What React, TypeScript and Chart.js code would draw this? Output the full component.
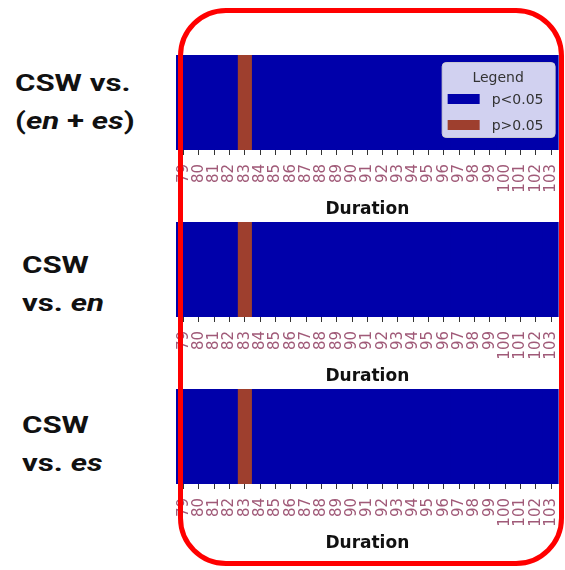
import React, { useEffect, useRef } from 'react';
import { Chart, registerables } from 'chart.js';

Chart.register(...registerables);

const DURATIONS = ['79', '80', '81', '82', '83', '84', '85', '86', '87', '88', '89', '90', '91', '92', '93', '94', '95', '96', '97', '98', '99', '100', '101', '102', '103'];

// 's' = p<0.05, 'n' = p>0.05
const STATUS_PANEL_1 = ['s', 's', 's', 's', 'n', 's', 's', 's', 's', 's', 's', 's', 's', 's', 's', 's', 's', 's', 's', 's', 's', 's', 's', 's', 's'];
const STATUS_PANEL_2 = ['s', 's', 's', 's', 'n', 's', 's', 's', 's', 's', 's', 's', 's', 's', 's', 's', 's', 's', 's', 's', 's', 's', 's', 's', 's'];
const STATUS_PANEL_3 = ['s', 's', 's', 's', 'n', 's', 's', 's', 's', 's', 's', 's', 's', 's', 's', 's', 's', 's', 's', 's', 's', 's', 's', 's', 's'];

const STATUS_KEYS = ['s', 'n'];
const SERIES_LABELS = ['p<0.05', 'p>0.05'];
const SERIES_COLORS = ['#0000aa', '#9e3f2e'];
const LEGEND_TITLE = 'Legend';
const AXIS_TITLE = 'Duration';

const legendPlugin = {
  id: 'boxLegend',
  afterDraw(chart: any, _args: any, opts: any) {
    if (!opts || !opts.show) return;
    const { ctx, chartArea } = chart;
    const w = 113;
    const h = 75;
    const x = chartArea.right - 4 - w;
    const y = chartArea.top + 7;
    ctx.save();
    ctx.beginPath();
    ctx.roundRect(x + 0.5, y + 0.5, w, h, 4);
    ctx.fillStyle = 'rgba(255,255,255,0.82)';
    ctx.fill();
    ctx.strokeStyle = 'rgba(210,210,210,0.9)';
    ctx.lineWidth = 1;
    ctx.stroke();
    ctx.font = '14px "DejaVu Sans"';
    ctx.fillStyle = '#333';
    ctx.textAlign = 'center';
    ctx.textBaseline = 'middle';
    ctx.fillText(LEGEND_TITLE, x + w / 2, y + 16);
    ctx.textAlign = 'left';
    chart.data.datasets.forEach((ds: any, i: number) => {
      const cy = y + 37 + i * 26;
      ctx.fillStyle = ds.backgroundColor;
      ctx.fillRect(x + 6, cy - 5, 32, 10);
      ctx.fillStyle = '#333';
      ctx.fillText(ds.label, x + 50, cy + 1);
    });
    ctx.restore();
  },
};

function Panel({ status, top, showLegend }: { status: string[]; top: number; showLegend: boolean }) {
  const ref = useRef<HTMLCanvasElement>(null);
  useEffect(() => {
    if (!ref.current) return;
    const datasets = STATUS_KEYS.map((key, i) => ({
      label: SERIES_LABELS[i],
      data: status.map((s) => (s === key ? 1 : null)),
      backgroundColor: SERIES_COLORS[i],
      borderWidth: 0,
      inflateAmount: 0.6,
      barPercentage: 1,
      categoryPercentage: 1,
    }));
    const chart = new Chart(ref.current, {
      type: 'bar',
      data: { labels: DURATIONS, datasets },
      options: {
        animation: false,
        responsive: false,
        devicePixelRatio: 1,
        layout: { padding: { top: 10, left: 10, right: 0, bottom: 0 } },
        plugins: {
          legend: { display: false },
          tooltip: { enabled: false },
          boxLegend: { show: showLegend },
        } as any,
        scales: {
          x: {
            stacked: true,
            offset: true,
            grid: { display: true, drawOnChartArea: false, drawTicks: true, tickLength: 5, color: '#333', offset: false },
            border: { display: false },
            ticks: {
              autoSkip: false,
              minRotation: 90,
              maxRotation: 90,
              padding: 9,
              color: '#a05a78',
              font: { family: '"DejaVu Sans"', size: 15 },
            },
            title: {
              display: true,
              text: AXIS_TITLE,
              color: '#111',
              font: { family: '"DejaVu Sans"', size: 17, weight: 'bold' },
              padding: { top: 2, bottom: 0 },
            },
            afterFit: (scale: any) => {
              scale.height = 70;
            },
          },
          y: { stacked: true, display: false, min: 0, max: 1 },
        },
      },
      plugins: [legendPlugin],
    });
    return () => chart.destroy();
  }, [status, showLegend]);
  return (
    <canvas
      ref={ref}
      width={412}
      height={175}
      style={{ position: 'absolute', left: 166, top: top - 10, width: 412, height: 175 }}
    />
  );
}

const labelStyle: React.CSSProperties = {
  position: 'absolute',
  left: 15,
  fontFamily: 'Roboto, "Liberation Sans", sans-serif',
  fontWeight: 700,
  fontSize: 24,
  lineHeight: '38px',
  color: '#111',
  whiteSpace: 'nowrap',
  transform: 'scaleX(1.3)',
  transformOrigin: 'left top',
};

export default function App() {
  return (
    <div style={{ position: 'fixed', left: 0, top: 0, width: 565, height: 570, background: '#fff', overflow: 'hidden' }}>
      <div style={{ ...labelStyle, top: 64 }}>
        <div>CSW vs.</div>
        <div>(<i>en</i> + <i>es</i>)</div>
      </div>
      <div style={{ ...labelStyle, top: 246, left: 22 }}>
        <div>CSW</div>
        <div>vs. <i>en</i></div>
      </div>
      <div style={{ ...labelStyle, top: 406, left: 22 }}>
        <div>CSW</div>
        <div>vs. <i>es</i></div>
      </div>
      <Panel status={STATUS_PANEL_1} top={55} showLegend={true} />
      <Panel status={STATUS_PANEL_2} top={222} showLegend={false} />
      <Panel status={STATUS_PANEL_3} top={389} showLegend={false} />
      <div
        style={{
          position: 'absolute',
          left: 178,
          top: 8,
          width: 386,
          height: 558,
          boxSizing: 'border-box',
          border: '5px solid #ff0000',
          borderRadius: 48,
          pointerEvents: 'none',
        }}
      />
    </div>
  );
}
